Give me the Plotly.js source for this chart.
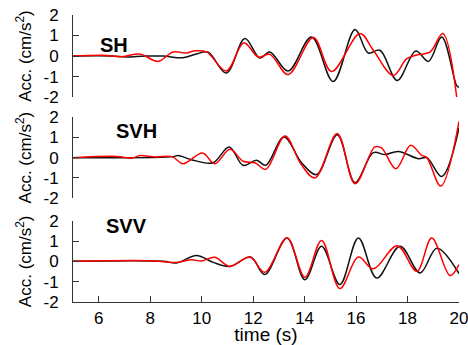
<!DOCTYPE html>
<html>
<head>
<meta charset="utf-8">
<script src="https://cdn.plot.ly/plotly-3.0.1.min.js"></script>
<style>html,body{margin:0;padding:0;background:#fff;}#chart{width:468px;height:345px;}</style>
</head>
<body>
<div id="chart"></div>
<script>
// Panel labels
const panelNames = ["SH", "SVH", "SVV"];
const xTicks = [6, 8, 10, 12, 14, 16, 18, 20];
const yTicks = [-2, -1, 0, 1, 2];

// SH component
const shBlackT = [5, 6.5, 7.07, 7.8, 8.5, 9.27, 9.8, 10.24, 10.96, 11.68, 12.26, 12.65, 13.36, 14.27, 15.11, 15.96, 16.47, 16.93, 17.6, 18.32, 18.81, 19.33, 19.91, 20];
const shBlackA = [0, 0, -0.05, 0, 0, -0.08, 0.1, 0.2, -0.83, 0.85, -0.1, 0.2, -0.73, 0.93, -1.24, 1.29, 0.15, 0.28, -1.19, 0.25, -0.26, 0.93, -1.44, -1.52];
const shRedT = [5, 6.15, 6.9, 7.6, 8.3, 8.89, 9.41, 9.7, 10.19, 10.96, 11.64, 12.2, 12.65, 13.36, 14.34, 15.05, 16.15, 16.67, 17.45, 17.97, 18.36, 18.88, 19.37, 19.91];
const shRedA = [0, 0.04, -0.03, 0.1, -0.26, 0.2, 0.15, 0.25, 0.2, -0.73, 0.65, -0.05, 0.08, -0.9, 0.9, -0.75, 1.1, 0.28, -0.95, -0.13, 0.05, 0.2, 1.1, -2.0];

// SVH component
const svhBlackT = [5, 8.9, 9.08, 9.6, 10.44, 11.07, 11.61, 12.13, 12.49, 13.2, 13.88, 14.47, 15.27, 15.96, 16.67, 17.12, 17.64, 18.42, 18.75, 19.33, 20];
const svhBlackA = [0, 0.05, 0.11, -0.1, -0.25, 0.53, -0.38, -0.13, -0.38, 1.02, -0.25, -0.84, 1.14, -1.24, 0.25, 0.15, 0.31, -0.05, 0.0, -0.93, 1.47];
const svhRedT = [5, 6.7, 7.3, 7.6, 8.2, 8.85, 9.28, 10.03, 10.51, 11.1, 11.61, 12.07, 12.49, 13.24, 13.85, 14.4, 15.27, 15.96, 16.73, 16.99, 17.55, 18.12, 18.55, 18.75, 19.29, 20];
const svhRedA = [0, 0.06, -0.02, 0.1, 0.03, 0.05, -0.3, 0.23, -0.3, 0.41, -0.18, -0.25, -0.58, 1.07, -0.3, -1.01, 1.19, -1.29, 0.53, 0.48, -0.55, 0.61, 0.11, 0.0, -1.41, 1.8];

// SVV component
const svvBlackT = [5, 8.5, 9.02, 9.8, 10.45, 11.09, 11.9, 12.45, 13.32, 14.01, 14.66, 15.37, 16.09, 16.8, 17.71, 18.49, 19.14, 20];
const svvBlackA = [0, 0, -0.08, 0.29, -0.05, -0.25, 0.21, -0.65, 1.15, -0.9, 0.74, -1.14, 1.15, -0.82, 0.74, -0.57, 0.65, -0.6];
const svvRedT = [5, 8.0, 9.0, 9.6, 10.0, 10.51, 11.09, 11.88, 12.45, 13.32, 14.01, 14.66, 15.37, 16.09, 16.67, 17.6, 18.36, 18.94, 19.65, 20];
const svvRedA = [0, 0.03, -0.06, 0.08, 0.02, 0.2, -0.25, 0.21, -0.54, 1.15, -0.78, 1.03, -1.34, 0.21, -0.37, 0.77, -0.49, 1.15, -0.7, -0.16];

const blackColor = "#111111";
const redColor = "#ff0000";

function tr(x, y, color, yaxis) {
  return {x: x, y: y, type: "scatter", mode: "lines", xaxis: "x", yaxis: yaxis,
          line: {color: color, width: 1.5, shape: "spline", smoothing: 1}, showlegend: false, hoverinfo: "skip"};
}

const data = [
  tr(shBlackT, shBlackA, blackColor, "y"),
  tr(shRedT, shRedA, redColor, "y"),
  tr(svhBlackT, svhBlackA, blackColor, "y2"),
  tr(svhRedT, svhRedA, redColor, "y2"),
  tr(svvBlackT, svvBlackA, blackColor, "y3"),
  tr(svvRedT, svvRedA, redColor, "y3")
];

const fontFam = "Liberation Sans, Arial, sans-serif";
function yax(domain) {
  return {
    domain: domain, range: [-2, 2], tickvals: yTicks, ticktext: yTicks.map(String),
    showline: true, linecolor: "#333", linewidth: 1, ticks: "inside", ticklen: 6, tickcolor: "#333",
    showgrid: false, zeroline: false, tickfont: {family: fontFam, size: 17, color: "#000"},
    ticklabelstandoff: 10,
    title: {text: "Acc. (cm/s<sup>2</sup>)", font: {family: fontFam, size: 17, color: "#000"}, standoff: 7},
    fixedrange: true
  };
}

const layout = {
  width: 468, height: 345,
  margin: {l: 73, r: 9, t: 15, b: 43},
  paper_bgcolor: "#fff", plot_bgcolor: "#fff",
  xaxis: {
    range: [5, 20], tickvals: xTicks, ticktext: xTicks.map(String), anchor: "y3",
    showline: true, linecolor: "#333", linewidth: 1, ticks: "inside", ticklen: 6, tickcolor: "#333",
    showgrid: false, zeroline: false, tickfont: {family: fontFam, size: 17, color: "#000"},
    ticklabelstandoff: 1, ticklabeloverflow: "allow",
    title: {text: "time (s)", font: {family: fontFam, size: 19, color: "#000"}, standoff: 4},
    fixedrange: true
  },
  yaxis: yax([0.714, 1]),
  yaxis2: yax([0.3624, 0.6436]),
  yaxis3: yax([0, 0.2833]),
  annotations: [
    {text: "<b>" + panelNames[0] + "</b>", xref: "paper", yref: "paper", x: 0.105, y: 0.897, xanchor: "center", yanchor: "middle", showarrow: false, font: {family: fontFam, size: 20, color: "#000"}},
    {text: "<b>" + panelNames[1] + "</b>", xref: "paper", yref: "paper", x: 0.164, y: 0.597, xanchor: "center", yanchor: "middle", showarrow: false, font: {family: fontFam, size: 20, color: "#000"}},
    {text: "<b>" + panelNames[2] + "</b>", xref: "paper", yref: "paper", x: 0.138, y: 0.264, xanchor: "center", yanchor: "middle", showarrow: false, font: {family: fontFam, size: 20, color: "#000"}}
  ]
};

Plotly.newPlot("chart", data, layout, {staticPlot: true, displayModeBar: false});
</script>
</body>
</html>
